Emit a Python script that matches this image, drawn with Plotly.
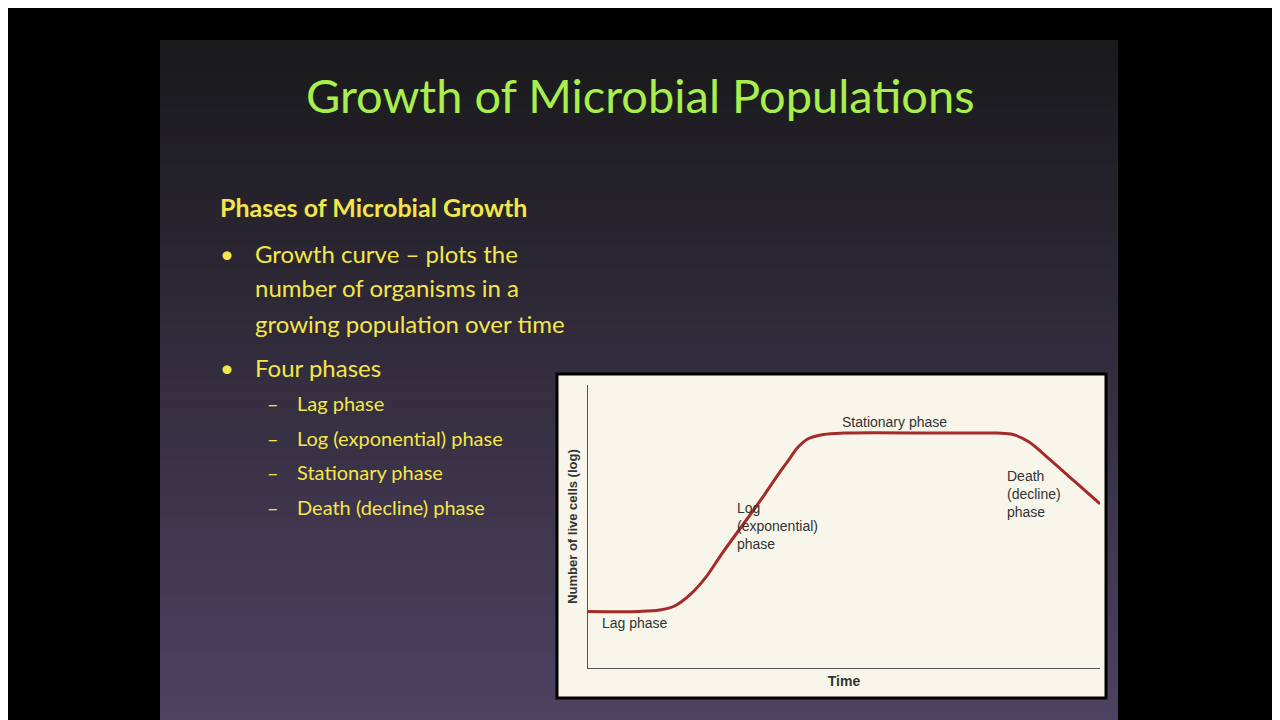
import plotly.graph_objects as go

# growth curve (time 0-100, log cells 0-100)
time = [0, 10, 14, 17, 20, 23, 26, 30, 34, 37, 39, 41, 43, 46, 50, 70, 80, 83, 86, 90, 95, 100]
cells = [20, 20, 20.5, 22, 26, 32, 40, 50, 60, 68, 73, 78, 81, 82.5, 83, 83, 83, 82.5, 80, 74, 66, 58]

bullets = ["Growth curve \u2013 plots the", "number of organisms in a", "growing population over time"]
phases = ["Lag phase", "Log (exponential) phase", "Stationary phase", "Death (decline) phase"]

W, H = 1280, 720
OFF = 8  # page body margin
def px(x): return (x - OFF) / W
def py(y): return 1 - (y - OFF) / H

fig = go.Figure()
fig.add_trace(go.Scatter(x=time, y=cells, mode="lines", line=dict(color="#a52a2a", width=3, shape="spline"),
                         hoverinfo="skip", showlegend=False))

shapes = [dict(type="rect", xref="paper", yref="paper", x0=0, x1=1, y0=0, y1=1,
               fillcolor="black", line_width=0, layer="below")]
# slide gradient in bands
n = 60
top, bot = (26, 26, 28), (78, 66, 98)
for i in range(n):
    t = i / (n - 1)
    c = tuple(int(top[k] + (bot[k] - top[k]) * t) for k in range(3))
    y0 = 40 + i * (680 / n)
    shapes.append(dict(type="rect", xref="paper", yref="paper", x0=px(160), x1=px(1118),
                       y0=py(y0 + 680 / n + 1), y1=py(y0), fillcolor="rgb(%d,%d,%d)" % c,
                       line_width=0, layer="below"))
shapes.append(dict(type="rect", xref="paper", yref="paper", x0=px(557), x1=px(1106), y0=py(698), y1=py(374),
                   fillcolor="#f8f6ea", line=dict(color="black", width=3), layer="below"))

ann = []
def txt(x, y, t, font, anchor="left", align="left"):
    ann.append(dict(x=px(x), y=py(y), xref="paper", yref="paper", text=t, showarrow=False,
                    font=font, xanchor=anchor, yanchor="middle", align=align))

yellow = "#f4e64a"
txt(640, 95, "Growth of Microbial Populations", dict(family="Lato", size=47, color="#a8ef4c"), "center")
txt(218, 207, "<b>Phases of Microbial Growth</b>", dict(family="Lato", size=25, color=yellow))
ybul = [253, 288, 323]
for i, b in enumerate(bullets):
    txt(253, ybul[i], b, dict(family="Lato", size=24, color=yellow))
txt(218, 253, "\u2022", dict(family="Lato", size=24, color=yellow))
txt(218, 367, "\u2022", dict(family="Lato", size=24, color=yellow))
txt(253, 367, "Four phases", dict(family="Lato", size=24, color=yellow))
for i, p in enumerate(phases):
    yy = 403 + i * 34.7
    txt(265, yy, "\u2013", dict(family="Lato", size=20, color=yellow))
    txt(295, yy, p, dict(family="Lato", size=20, color=yellow))

lab = dict(family="Liberation Sans", size=14, color="#333333")
for x, y, t in [(600, 623, "Lag phase"), (735, 526, "Log<br>(exponential)<br>phase"),
                (840, 422, "Stationary phase"), (1005, 494, "Death<br>(decline)<br>phase")]:
    txt(x, y, t, lab)

fig.update_layout(
    width=W, height=H, margin=dict(l=0, r=0, t=0, b=0),
    paper_bgcolor="black", plot_bgcolor="rgba(0,0,0,0)",
    shapes=shapes, annotations=ann,
    xaxis=dict(domain=[px(588), px(1100)], range=[0, 100], showgrid=False, zeroline=False,
               showticklabels=False, showline=True, linecolor="#555", linewidth=1,
               title=dict(text="<b>Time</b>", font=lab, standoff=8)),
    yaxis=dict(domain=[py(668), py(385)], range=[0, 100], showgrid=False, zeroline=False,
               showticklabels=False, showline=True, linecolor="#555", linewidth=1,
               title=dict(text="<b>Number of live cells (log)</b>", font=dict(family="Liberation Sans", size=13, color="#333"),
                          standoff=6)),
)

fig.write_html("out.html")
